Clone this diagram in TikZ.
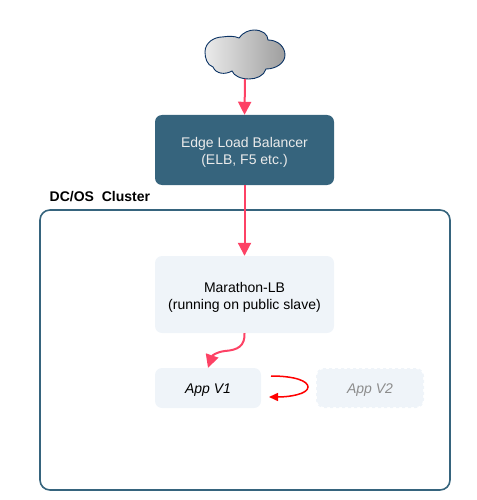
\documentclass[tikz,border=0pt]{standalone}
\usepackage{fontspec}
\setmainfont{Liberation Sans}
\usepackage{xcolor}
\usetikzlibrary{arrows.meta, positioning}
\definecolor{cEdge}{RGB}{54,100,125}
\definecolor{cPale}{RGB}{239,244,249}
\definecolor{cPink}{RGB}{253,66,101}
\definecolor{cCloud}{RGB}{10,50,100}
\newcommand{\topgap}{\rule{0pt}{15pt}}
\tikzset{
	edgebox/.style ={rectangle, rounded corners=7pt, minimum width=179pt, minimum height=70pt, align=center, fill=cEdge, text=white!92!black},
	palebox/.style ={rectangle, rounded corners=7pt, minimum width=179pt, minimum height=77pt, align=center, fill=cPale},
	appbox/.style  ={rectangle, rounded corners=7pt, minimum width=106pt, minimum height=40pt, align=center, fill=cPale, font=\itshape\fontsize{14}{17}\selectfont, execute at begin node=\rule{0pt}{14.5pt}},
	sig/.style     ={-{Triangle[length=13pt, width=13pt]}, cPink, line width=2pt},
	swap/.style    ={-{Triangle[length=9pt, width=8pt]}, red, line width=1.5pt},
}
\begin{document}
\begin{tikzpicture}[x=1pt, y=-1pt, font=\fontsize{14}{17}\selectfont]
	\useasboundingbox (0,0) rectangle (476,500);
	\node[draw=cEdge, line width=1.6pt, rounded corners=10pt, minimum width=410pt, minimum height=280pt] (cluster) at (245,350) {};
	\node[above right=4pt and 7pt of cluster.north west, anchor=south west, font=\bfseries\fontsize{14}{17}\selectfont] (title) {DC/OS\ \ Cluster};
	% cloud outline
	\draw[cCloud, line width=0.9pt, left color=white!92!black, right color=black!38]
		(239,38) .. controls (243,32) and (250,30) .. (254,30) .. controls (262,30) and (268,34) .. (268,40)
		.. controls (278,40) and (285,47) .. (285,55) .. controls (285,63) and (276,69) .. (266,69)
		.. controls (264,76) and (256,79) .. (249,79) .. controls (241,79) and (234,76) .. (232,71)
		.. controls (225,75) and (216,74) .. (213,67) .. controls (207,65) and (205,58) .. (205,52)
		.. controls (205,42) and (215,37) .. (222,37) .. controls (229,36) and (235,36) .. (239,38) -- cycle;
	\coordinate (inet) at (245,79);
	\node[edgebox] (elb) at (244.5,150) {\topgap Edge Load Balancer\\(ELB, F5 etc.)};
	\node[palebox] (mlb) at (244.5,294.5) {\topgap Marathon-LB\\(running on public slave)};
	\node[appbox] (v1) at (208,388) {App V1};
	\node[appbox, text=black!45, draw=cPale, dashed, line width=2pt, minimum width=106pt, minimum height=38pt] (v2) at (370,388) {App V2};
	\coordinate (swapa) at (271,376);
	\coordinate (swapb) at (269,397);
	\draw[sig] (inet) -- (elb.north);
	\draw[sig] (elb.south) -- (mlb.north);
	\draw[sig] (mlb.south) .. controls (245,346) and (238,350) .. (225,351) .. controls (216,352) and (212,356) .. (v1.north);
	\draw[swap] (swapa) .. controls (295,376) and (308,381) .. (308,387) .. controls (308,394) and (290,397) .. (swapb);
\end{tikzpicture}
\end{document}
